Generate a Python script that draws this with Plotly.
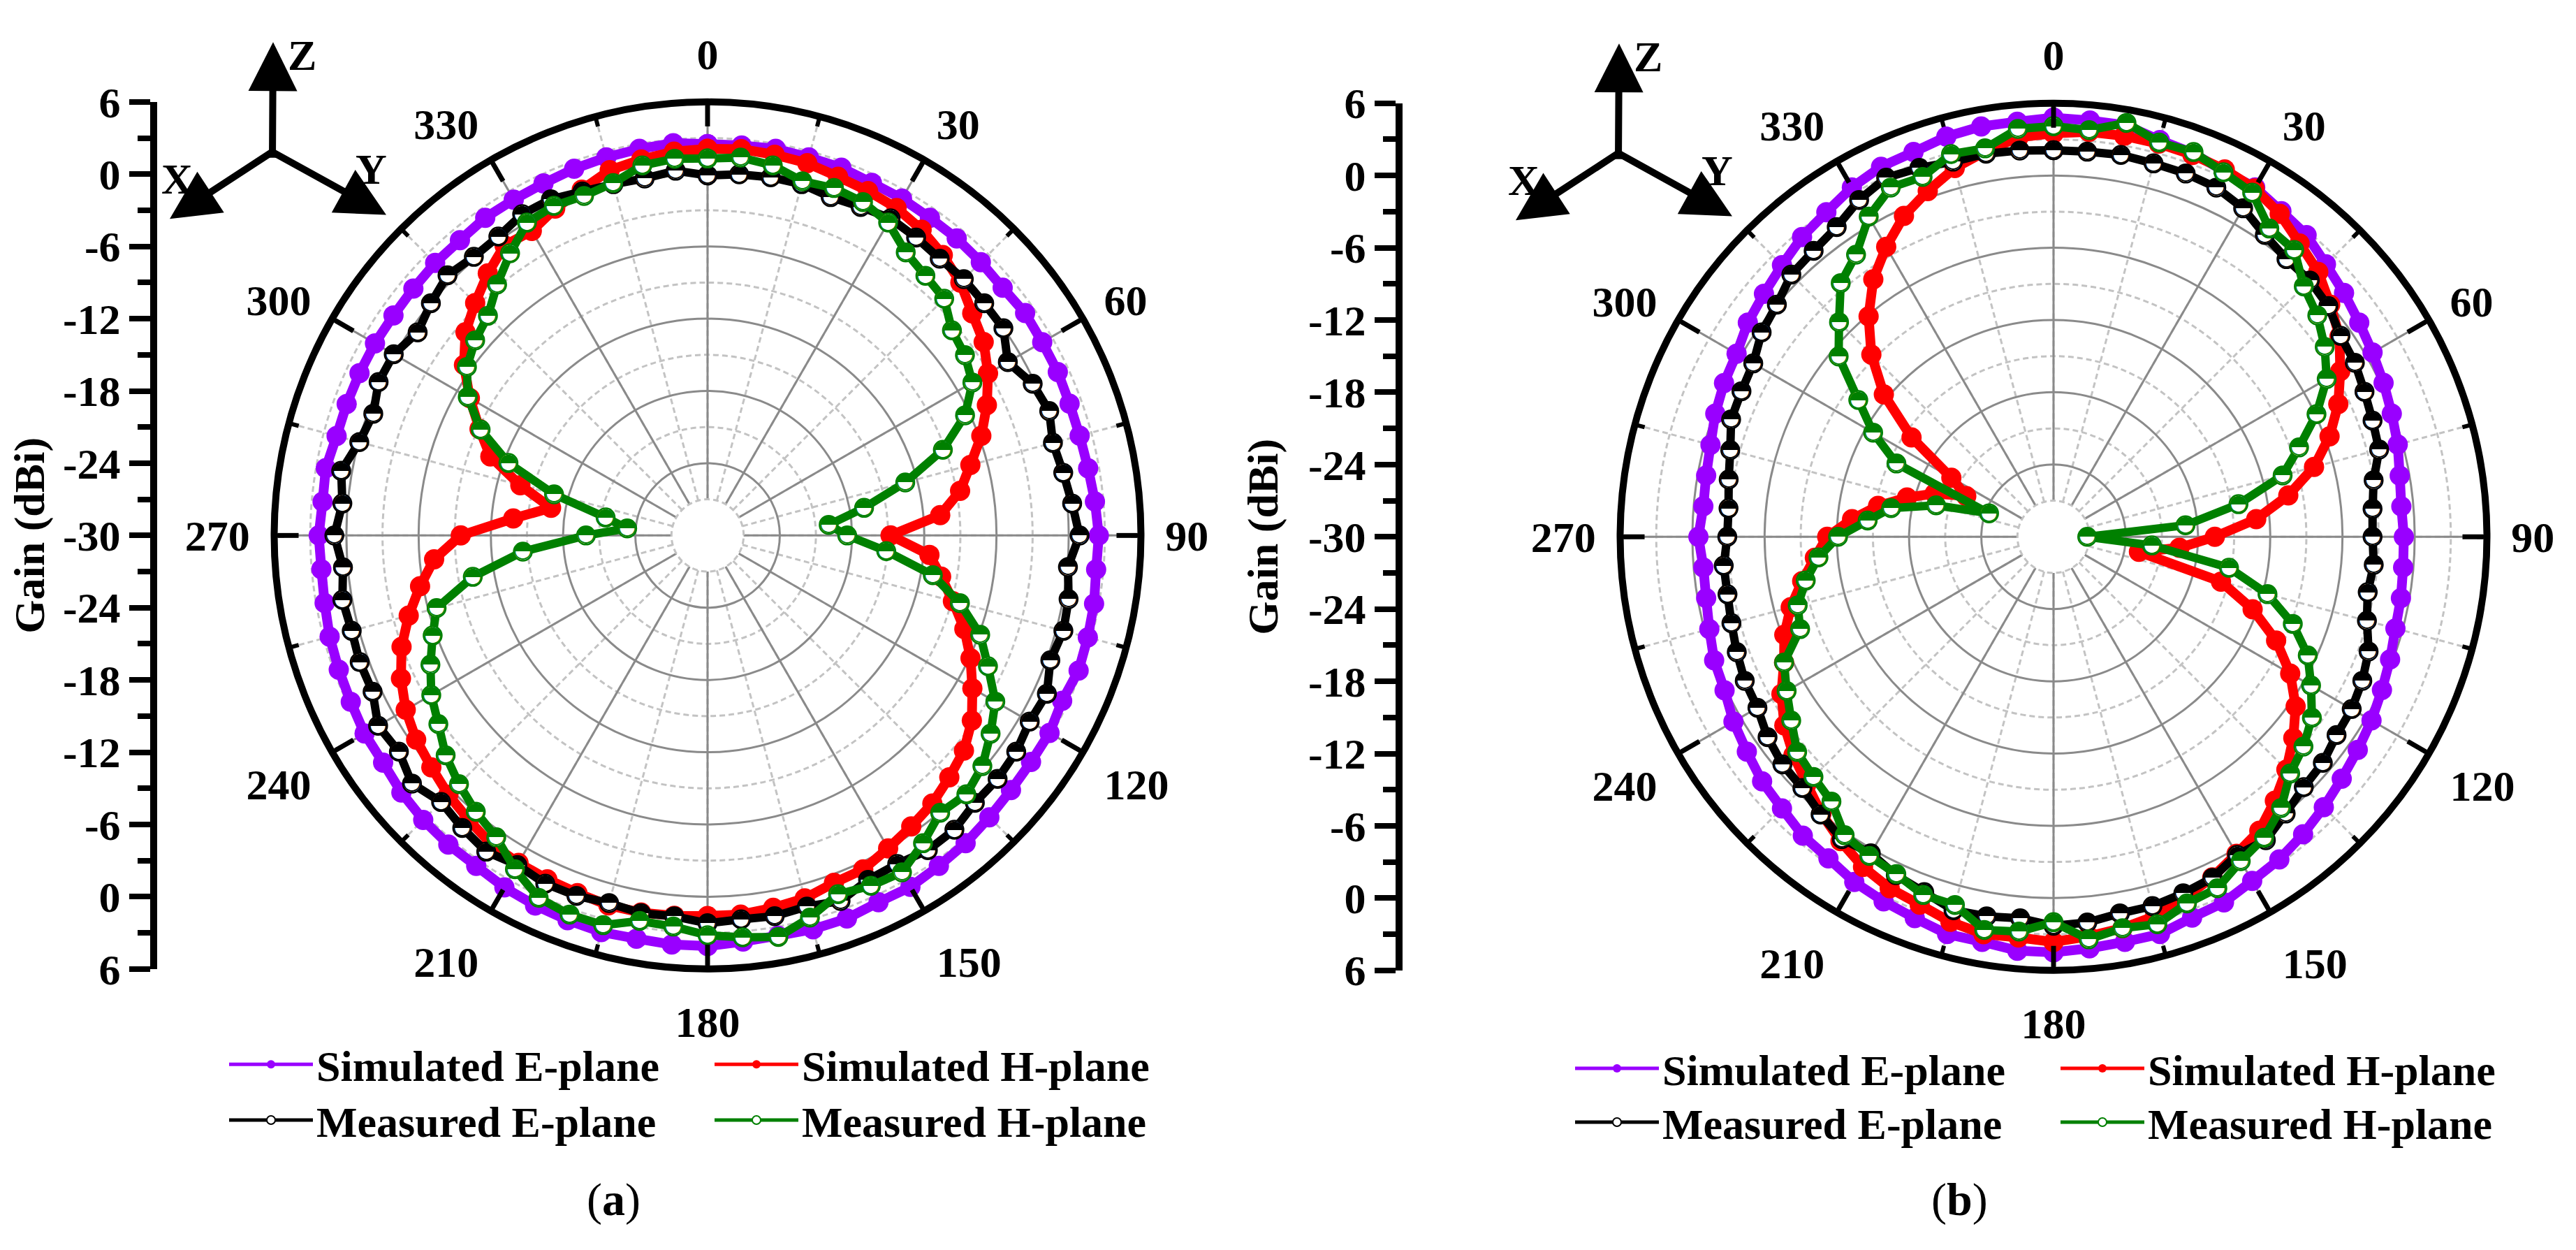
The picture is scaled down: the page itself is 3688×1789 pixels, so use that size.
import plotly.graph_objects as go

W, H = 3688, 1789

# ---------------- data (gain in dBi, every 5 degrees from 0 to 355) ----------------
angles = list(range(0, 360, 5))

a_sim_e = [2.5, 2.5, 2.6, 2.5, 2.5, 2.3, 2.3, 2.2, 2.2, 2.1, 2.0, 2.2, 2.1, 2.1, 2.0, 2.0, 2.1, 2.3,
           2.5, 2.4, 2.6, 2.7, 2.8, 2.5, 2.8, 2.8, 2.9, 3.1, 3.35, 3.5, 3.7, 3.6, 3.85, 3.85, 3.75, 3.85,
           4.1, 4.1, 4.0, 4.1, 4.0, 3.9, 3.75, 3.5, 3.5, 3.4, 3.2, 2.9, 2.9, 2.7, 2.6, 2.5, 2.3, 2.2,
           2.3, 2.1, 2.2, 1.9, 1.9, 1.9, 1.9, 1.85, 1.9, 2.0, 2.0, 2.2, 2.2, 2.25, 2.4, 2.5, 2.6, 2.7]
a_sim_h = [2.1, 2.2, 2.1, 2.0, 1.7, 1.55, 1.4, 1.0, 0.4, -0.3, -1.3, -2.0, -3.1, -4.4, -5.8, -7.4, -8.7, -10.6,
           -14.8, -11.5, -10.3, -8.9, -7.3, -5.9, -4.6, -3.2, -2.2, -1.6, -0.95, -0.5, 0.0, 0.6, 0.7, 1.2, 1.4, 1.6,
           1.6, 1.7, 1.8, 1.8, 1.6, 1.5, 1.4, 1.3, 0.85, 0.45, -0.05, -0.45, -1.05, -1.9, -2.95, -4.3, -5.75, -7.2,
           -9.5, -13.8, -16.8, -13.9, -10.8, -9.1, -7.2, -5.3, -3.75, -2.7, -1.6, -0.6, -0.8, -0.05, 0.55, 1.4, 1.7, 2.0]
a_meas_e = [-0.1, 0.1, 0.2, 0.2, -0.1, 0.1, 0.4, 0.2, 0.0, 0.1, 0.0, 0.0, -1.2, -0.2, 0.2, -0.3, 0.0, 0.4,
            0.9, 0.05, 0.45, 0.6, 0.3, 1.1, 0.9, 1.3, 1.45, 1.4, 1.9, 1.9, 1.5, 1.55, 2.3, 1.9, 2.1, 2.0,
            2.2, 1.75, 1.85, 1.6, 1.85, 1.9, 1.6, 2.05, 1.7, 1.3, 2.05, 1.3, 1.6, 0.7, 0.75, 0.6, 0.8, 0.4,
            1.0, 0.45, 0.9, -0.05, -0.45, 0.15, 0.1, -0.6, 0.0, 0.55, 0.2, 0.3, 0.8, 0.8, 0.4, 0.2, 0.1, 0.4]
a_meas_h = [1.3, 1.5, 1.2, 0.45, 0.7, 0.55, 0.0, -1.3, -1.85, -2.2, -3.5, -3.9, -4.6, -6.4, -9.2, -13.0, -16.8, -19.9,
            -18.4, -15.1, -11.0, -8.3, -5.9, -4.3, -2.4, -1.3, -0.2, 0.4, 0.06, 1.2, 2.3, 2.1, 1.7, 2.85, 3.85, 3.5,
            3.2, 2.6, 2.5, 3.5, 3.5, 3.2, 2.0, 0.6, -0.05, -0.8, -1.6, -2.7, -3.5, -4.6, -5.7, -6.7, -10.2, -14.6,
            -19.9, -23.3, -21.4, -16.8, -12.4, -9.2, -7.0, -5.6, -4.8, -4.2, -2.8, -1.4, 0.0, 0.2, 0.0, 0.3, 1.2, 1.4]

b_sim_e = [4.8, 4.7, 4.7, 4.1, 3.9, 3.5, 3.5, 3.0, 2.7, 2.0, 1.5, 1.0, 0.6, 0.25, -0.1, -0.4, -0.8, -1.0,
           -0.9, -0.85, -0.7, -0.6, -0.25, 0.1, 0.5, 0.85, 1.25, 1.75, 2.25, 2.7, 3.0, 3.5, 3.65, 4.15, 4.15, 4.3,
           4.5, 4.5, 4.15, 4.15, 3.7, 3.4, 3.1, 2.6, 2.4, 1.9, 1.6, 1.1, 0.7, 0.15, 0.0, -0.4, -0.7, -0.8,
           -0.5, -0.8, -0.7, -0.5, -0.1, 0.2, 0.4, 1.0, 1.4, 1.9, 2.5, 2.9, 3.5, 3.9, 4.0, 4.4, 4.6, 4.6]
b_sim_h = [3.5, 3.75, 3.8, 3.8, 3.75, 3.65, 3.4, 2.75, 1.8, 1.1, 0.0, -1.0, -2.5, -3.9, -5.6, -7.6, -10.2, -13.1,
           -16.6, -19.5, -22.8, -15.6, -12.4, -9.6, -7.3, -5.45, -4.0, -2.65, -1.4, -0.2, 0.4, 1.2, 1.9, 2.6, 3.0, 3.3,
           3.65, 3.4, 3.5, 3.1, 2.5, 2.2, 1.65, 0.85, 0.0, -1.0, -1.8, -2.7, -3.9, -5.3, -6.2, -7.4, -8.8, -10.1,
           -11.2, -13.2, -15.2, -17.4, -19.5, -22.0, -20.2, -15.6, -11.6, -8.6, -6.1, -3.9, -2.2, -0.6, 0.55, 1.7, 2.5, 3.3]
b_meas_e = [2.1, 2.1, 2.2, 2.1, 2.1, 2.0, 1.5, 0.6, 0.1, 0.1, -0.2, -0.9, -1.1, -1.5, -1.8, -2.0, -3.0, -3.4,
            -3.5, -3.3, -3.5, -3.05, -2.15, -1.7, -1.4, -1.3, -0.8, -0.6, 0.0, 0.75, 0.5, 1.25, 1.5, 1.75, 1.75, 2.15,
            2.3, 1.8, 2.0, 2.1, 1.4, 1.0, 0.35, 0.65, 0.1, -0.5, -0.6, -1.0, -1.6, -1.7, -2.0, -2.3, -2.5, -2.5,
            -2.9, -2.9, -2.6, -2.2, -1.5, -1.4, -1.2, -0.4, 0.0, 0.8, 1.0, 1.4, 2.3, 2.9, 2.6, 2.25, 2.3, 2.2]
b_meas_h = [4.1, 3.9, 4.9, 3.9, 4.0, 3.4, 3.0, 1.25, 1.1, -0.6, -1.4, -2.5, -3.8, -5.9, -8.3, -10.3, -14.4, -19.0,
            -27.2, -21.8, -15.2, -11.6, -8.85, -6.7, -5.3, -3.8, -2.9, -2.2, -0.6, 0.5, 1.1, 2.2, 2.4, 3.3, 3.0, 3.55,
            2.0, 2.9, 3.15, 1.65, 1.65, 0.9, 0.6, 0.25, -1.3, -1.8, -2.2, -3.4, -4.4, -5.3, -7.6, -8.0, -9.1, -10.4,
            -12.1, -14.5, -16.3, -19.9, -24.3, -15.6, -12.7, -10.2, -6.7, -4.8, -2.5, -1.4, 0.7, 2.0, 1.8, 2.9, 2.75, 4.0]

series_names = ["Simulated E-plane", "Simulated H-plane", "Measured E-plane", "Measured H-plane"]
series_colors = ["#9900ff", "#ff0000", "#000000", "#008000"]
series_measured = [False, False, True, True]

angle_tick_vals = list(range(0, 360, 30))
angle_tick_text = [str(v) for v in angle_tick_vals]
angle_minor_vals = list(range(0, 360, 15))
radial_major = [-24, -18, -12, -6, 0]
radial_minor = [-21, -15, -9, -3, 3]
radial_hole_edge = [-27]
gain_tick_vals = list(range(-36, 37, 6))
gain_tick_text = ["6", "0", "-6", "-12", "-18", "-24", "-30", "-24", "-18", "-12", "-6", "0", "6"]
panel_labels = ["a", "b"]

R_MIN, R_MAX, R_HOLE = -30, 6, -27

# ---------------- layout geometry (pixels) ----------------
panels = [
    dict(cx=1005, cy=754, axis_x=212, leg_x=315, leg_y=(1541, 1624), lab=(870, 1742),
         data=[a_sim_e, a_sim_h, a_meas_e, a_meas_h]),
    dict(cx=2932, cy=756, axis_x=1995, leg_x=2242, leg_y=(1547, 1627), lab=(2797, 1742),
         data=[b_sim_e, b_sim_h, b_meas_e, b_meas_h]),
]
RAD = 645
DASH = "8px,5px"


def fx(p):
    return p / W


def fy(p):
    return 1 - p / H


FONT = "Liberation Serif"
tickfont = dict(family=FONT, size=62, color="black", weight="bold")

fig = go.Figure()
layout = dict(width=W, height=H, autosize=False, margin=dict(l=0, r=0, t=0, b=0),
              paper_bgcolor="white", plot_bgcolor="rgba(0,0,0,0)", showlegend=True)
annotations = []

theta_closed = angles + [angles[0]]
hole = (R_HOLE - R_MIN) / (R_MAX - R_MIN)
no_radial = dict(range=[R_MIN, R_MAX], showgrid=False, showticklabels=False, ticks="", showline=False)


def pkey(n):
    return "polar" if n == 1 else "polar%d" % n


for pi, p in enumerate(panels):
    dom = dict(x=[fx(p["cx"] - RAD), fx(p["cx"] + RAD)], y=[fy(p["cy"] + RAD), fy(p["cy"] - RAD)])
    base = 5 * pi
    k_dash, k_solid, k_minor, k_data, k_lab = [pkey(base + i) for i in range(1, 6)]

    # 1: dashed minor grid (with hole)
    layout[k_dash] = dict(
        domain=dom, bgcolor="white", hole=hole,
        radialaxis=dict(range=[R_HOLE, R_MAX], tickmode="array", tickvals=radial_minor, showgrid=True,
                        gridcolor="#c3c3c3", gridwidth=3, griddash=DASH, showticklabels=False,
                        ticks="", showline=False),
        angularaxis=dict(rotation=90, direction="clockwise", tickmode="array", tickvals=angle_minor_vals,
                         showgrid=True, gridcolor="#c3c3c3", gridwidth=3, griddash=DASH,
                         ticks="", showticklabels=False, showline=False))
    # 2: solid major grid (with hole)
    layout[k_solid] = dict(
        domain=dom, bgcolor="rgba(0,0,0,0)", hole=hole,
        radialaxis=dict(range=[R_HOLE, R_MAX], tickmode="array", tickvals=radial_major, showgrid=True,
                        gridcolor="#8a8a8a", gridwidth=3, showticklabels=False, ticks="", showline=False),
        angularaxis=dict(rotation=90, direction="clockwise", tickmode="array", tickvals=angle_tick_vals,
                         showgrid=True, gridcolor="#8a8a8a", gridwidth=3,
                         ticks="", showticklabels=False, showline=False))
    # 3: short ticks every 15 deg + dashed circle around the central hole
    layout[k_minor] = dict(
        domain=dom, bgcolor="rgba(0,0,0,0)",
        radialaxis=dict(range=[R_MIN, R_MAX], tickmode="array", tickvals=radial_hole_edge, showgrid=True,
                        gridcolor="#c3c3c3", gridwidth=3, griddash=DASH, showticklabels=False,
                        ticks="", showline=False),
        angularaxis=dict(rotation=90, direction="clockwise", tickmode="array", tickvals=angle_minor_vals,
                         showgrid=False, ticks="inside", ticklen=14, tickwidth=6, tickcolor="black",
                         showticklabels=False, showline=False))
    # 4: data + outer circle + long ticks every 30 deg
    layout[k_data] = dict(
        domain=dom, bgcolor="rgba(0,0,0,0)", radialaxis=no_radial,
        angularaxis=dict(rotation=90, direction="clockwise", tickmode="array", tickvals=angle_tick_vals,
                         showgrid=False, ticks="inside", ticklen=30, tickwidth=7, tickcolor="black",
                         showticklabels=False, showline=True, linecolor="black", linewidth=10))
    # 5: angle labels, pushed outwards by invisible outside ticks
    layout[k_lab] = dict(
        domain=dom, bgcolor="rgba(0,0,0,0)", radialaxis=no_radial,
        angularaxis=dict(rotation=90, direction="clockwise", tickmode="array", tickvals=angle_tick_vals,
                         ticktext=angle_tick_text, showgrid=False, ticks="outside", ticklen=22,
                         tickcolor="rgba(0,0,0,0)", tickfont=tickfont, showline=False))

    # empty traces so the decoration layers get drawn
    for k in (k_dash, k_solid, k_minor, k_lab):
        fig.add_trace(go.Scatterpolar(r=[], theta=[], subplot=k, showlegend=False, hoverinfo="skip",
                                      mode="lines"))

    for si in range(4):
        r = p["data"][si]
        col = series_colors[si]
        legname = ["legend", "legend2", "legend3", "legend4"][2 * pi + (si // 2)]
        if not series_measured[si]:
            fig.add_trace(go.Scatterpolar(
                r=r + [r[0]], theta=theta_closed, subplot=k_data, mode="lines+markers",
                name=series_names[si], legend=legname,
                line=dict(color=col, width=14),
                marker=dict(symbol="circle", size=29, color=col)))
        else:
            fig.add_trace(go.Scatterpolar(
                r=r + [r[0]], theta=theta_closed, subplot=k_data, mode="lines+markers",
                name=series_names[si], legend=legname,
                line=dict(color=col, width=12),
                marker=dict(symbol="circle", size=26, color="white", line=dict(color=col, width=2.5))))
            fig.add_trace(go.Scatterpolar(
                r=r, theta=angles, subplot=k_data, mode="text", text=["\u25d3"] * len(r),
                textposition="middle center", showlegend=False, hoverinfo="skip",
                textfont=dict(family="DejaVu Sans", size=32, color=col)))

    # left gain axis
    xa = "xaxis" if pi == 0 else "xaxis2"
    ya = "yaxis" if pi == 0 else "yaxis2"
    layout[xa] = dict(domain=[fx(p["axis_x"]), fx(p["axis_x"] + 2)], visible=False, range=[0, 1])
    layout[ya] = dict(domain=[fy(p["cy"] + RAD), fy(p["cy"] - RAD)], range=[-36, 36],
                      anchor="free", position=fx(p["axis_x"]), side="left",
                      tickmode="array", tickvals=gain_tick_vals, ticktext=gain_tick_text,
                      ticks="outside", ticklen=30, tickwidth=8, tickcolor="black",
                      showline=True, linecolor="black", linewidth=10, showgrid=False, zeroline=False,
                      tickfont=tickfont,
                      minor=dict(ticks="outside", ticklen=18, tickwidth=8, tickcolor="black",
                                 tickmode="linear", tick0=0, dtick=3, showgrid=False),
                      title=dict(text="Gain (dBi)", font=tickfont, standoff=22))
    fig.add_trace(go.Scatter(x=[], y=[], xaxis="x" if pi == 0 else "x2", yaxis="y" if pi == 0 else "y2",
                             showlegend=False, hoverinfo="skip"))

    # legends (two rows)
    for row in range(2):
        lname = ["legend", "legend2", "legend3", "legend4"][2 * pi + row]
        layout[lname] = dict(orientation="h", x=fx(p["leg_x"]), y=fy(p["leg_y"][row]), xanchor="left",
                             yanchor="middle", font=dict(family=FONT, size=62, color="black", weight="bold"),
                             bgcolor="rgba(0,0,0,0)", itemwidth=120, entrywidth=560, tracegroupgap=0,
                             itemsizing="constant")

    # panel label
    annotations.append(dict(x=fx(p["lab"][0]), y=fy(p["lab"][1]), xref="paper", yref="paper",
                            xanchor="center", yanchor="middle",
                            text="(<b>%s</b>)" % panel_labels[pi], showarrow=False,
                            font=dict(family=FONT, size=66, color="black")))

    # coordinate triad
    dx = p["cx"] - 1005
    dy = p["cy"] - 754
    ox, oy = 382 + dx, 187 + dy
    for tip, lab, lpos in [((383, 20), "Z", (424, 40)), ((235, 283), "X", (246, 224)), ((545, 277), "Y", (523, 209))]:
        tx, ty = tip[0] + dx, tip[1] + dy
        annotations.append(dict(x=fx(tx), y=fy(ty), xref="paper", yref="paper", text="", showarrow=True,
                                ax=ox - tx, ay=oy - ty, axref="pixel", ayref="pixel",
                                arrowhead=2, arrowsize=1.4, arrowwidth=10, arrowcolor="black", standoff=0))
        annotations.append(dict(x=fx(lpos[0] + dx), y=fy(lpos[1] + dy), xref="paper", yref="paper",
                                xanchor="center", yanchor="middle",
                                text="<b>%s</b>" % lab, showarrow=False,
                                font=dict(family=FONT, size=62, color="black")))

layout["annotations"] = annotations
fig.update_layout(**layout)
fig.write_html("out.html", config={"displayModeBar": False})
